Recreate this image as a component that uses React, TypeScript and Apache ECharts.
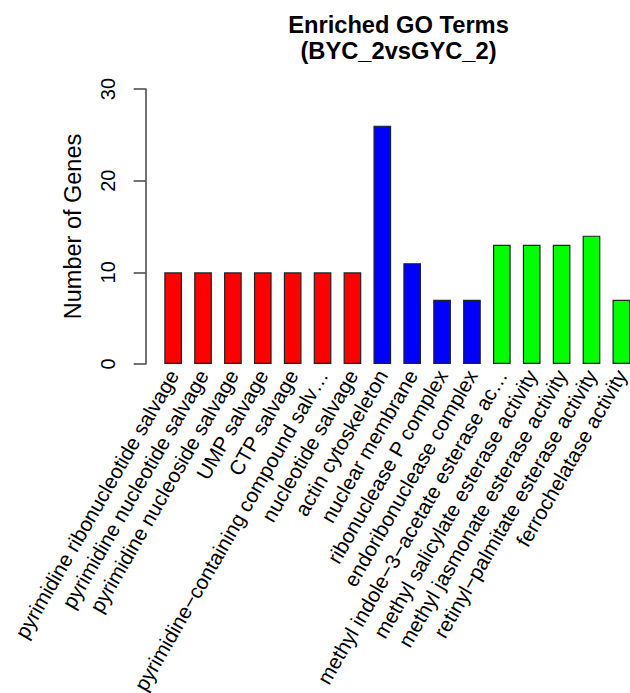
import React, { useEffect, useRef } from "react";
import * as echarts from "echarts";

const categories = [
  "pyrimidine ribonucleotide salvage",
  "pyrimidine nucleotide salvage",
  "pyrimidine nucleoside salvage",
  "UMP salvage",
  "CTP salvage",
  "pyrimidine\u2212containing compound salv\u2026",
  "nucleotide salvage",
  "actin cytoskeleton",
  "nuclear membrane",
  "ribonuclease P complex",
  "endoribonuclease complex",
  "methyl indole\u22123\u2212acetate esterase ac\u2026",
  "methyl salicylate esterase activity",
  "methyl jasmonate esterase activity",
  "retinyl\u2212palmitate esterase activity",
  "ferrochelatase activity",
];

const geneCounts = [10, 10, 10, 10, 10, 10, 10, 26, 11, 7, 7, 13, 13, 13, 14, 7];

const ontology = ["BP", "BP", "BP", "BP", "BP", "BP", "BP", "CC", "CC", "CC", "CC", "MF", "MF", "MF", "MF", "MF"];

const yTicks = [0, 10, 20, 30];

const titleLines = ["Enriched GO Terms", "(BYC_2vsGYC_2)"];
const yAxisTitle = "Number of Genes";

const ontologyColors: Record<string, string> = { BP: "#FF0000", CC: "#0000FF", MF: "#00FF00" };

const FONT = "'Liberation Sans', Arial, Helvetica, sans-serif";

export default function App() {
  const ref = useRef<HTMLDivElement>(null);
  useEffect(() => {
    if (!ref.current) return;
    const chart = echarts.init(ref.current, null, { renderer: "svg" });
    chart.setOption({
      animation: false,
      backgroundColor: "#ffffff",
      textStyle: { fontFamily: FONT },
      grid: {
        left: 158.2,
        top: 89,
        bottom: 329,
        right: 13.7,
        containLabel: false,
        outerBoundsMode: "none",
      },
      xAxis: {
        type: "category",
        data: categories,
        axisLine: { show: false },
        axisTick: { show: false },
        axisLabel: {
          rotate: 60,
          interval: 0,
          margin: 7.5,
          fontSize: 20.7,
          color: "#000",
          fontFamily: FONT,
        },
      },
      yAxis: {
        type: "value",
        min: yTicks[0],
        max: yTicks[yTicks.length - 1],
        interval: 10,
        offset: 12.5,
        splitLine: { show: false },
        axisLine: { show: true, lineStyle: { color: "#444", width: 1.5 } },
        axisTick: { show: true, length: 12, lineStyle: { color: "#444", width: 1.5 } },
        axisLabel: {
          rotate: 90,
          margin: 28,
          fontSize: 20,
          color: "#000",
          fontFamily: FONT,
        },
      },
      graphic: [
        {
          type: "text",
          x: 398.5,
          y: 25,
          style: {
            text: titleLines[0],
            fontSize: 23.7,
            fontWeight: "bold",
            fontFamily: FONT,
            fill: "#000",
            textAlign: "center",
            textVerticalAlign: "middle",
          },
        },
        {
          type: "text",
          x: 398.5,
          y: 51,
          style: {
            text: titleLines[1],
            fontSize: 23.7,
            fontWeight: "bold",
            fontFamily: FONT,
            fill: "#000",
            textAlign: "center",
            textVerticalAlign: "middle",
          },
        },
        {
          type: "text",
          x: 73,
          y: 226.5,
          rotation: Math.PI / 2,
          style: {
            text: yAxisTitle,
            fontSize: 23.5,
            fontFamily: FONT,
            fill: "#000",
            textAlign: "center",
            textVerticalAlign: "middle",
          },
        },
      ],
      series: [
        {
          type: "bar",
          barWidth: 17.7,
          data: geneCounts.map((v, i) => ({
            value: v,
            itemStyle: {
              color: ontologyColors[ontology[i]],
              borderColor: "#222",
              borderWidth: 1.2,
            },
          })),
        },
      ],
    });
    return () => chart.dispose();
  }, []);
  return (
    <div
      style={{ position: "absolute", left: 0, top: 0, width: 630, height: 693, overflow: "hidden" }}
    >
      <div ref={ref} style={{ width: 650, height: 693 }} />
    </div>
  );
}
